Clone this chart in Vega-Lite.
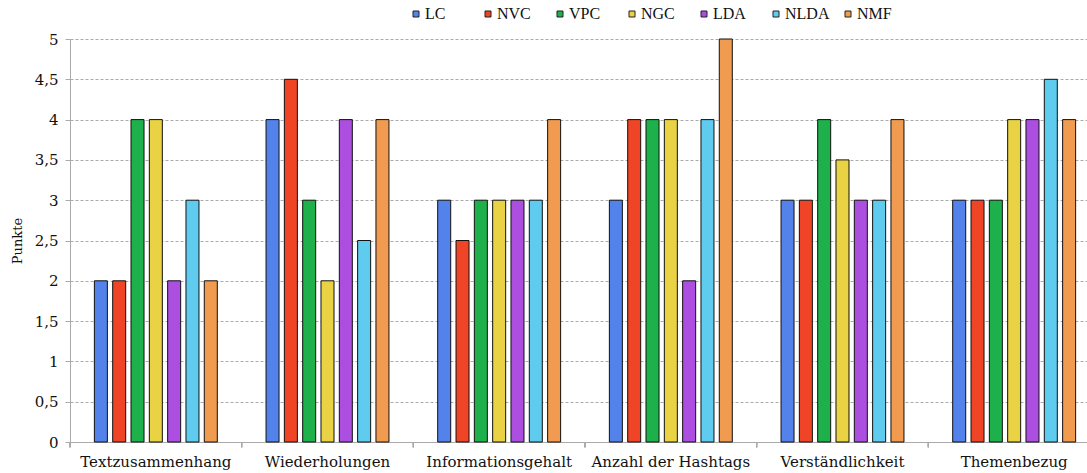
{
  "$schema": "https://vega.github.io/schema/vega-lite/v6.json",
  "autosize": {"type": "none"},
  "width": 1017,
  "height": 403,
  "padding": {"left": 70, "top": 39, "right": 0, "bottom": 31},
  "background": "white",
  "config": {
    "font": "DejaVu Serif",
    "view": {"stroke": null}
  },
  "data": {
    "values": [
      {"kriterium": "Textzusammenhang", "methode": "LC", "punkte": 2},
      {"kriterium": "Textzusammenhang", "methode": "NVC", "punkte": 2},
      {"kriterium": "Textzusammenhang", "methode": "VPC", "punkte": 4},
      {"kriterium": "Textzusammenhang", "methode": "NGC", "punkte": 4},
      {"kriterium": "Textzusammenhang", "methode": "LDA", "punkte": 2},
      {"kriterium": "Textzusammenhang", "methode": "NLDA", "punkte": 3},
      {"kriterium": "Textzusammenhang", "methode": "NMF", "punkte": 2},
      {"kriterium": "Wiederholungen", "methode": "LC", "punkte": 4},
      {"kriterium": "Wiederholungen", "methode": "NVC", "punkte": 4.5},
      {"kriterium": "Wiederholungen", "methode": "VPC", "punkte": 3},
      {"kriterium": "Wiederholungen", "methode": "NGC", "punkte": 2},
      {"kriterium": "Wiederholungen", "methode": "LDA", "punkte": 4},
      {"kriterium": "Wiederholungen", "methode": "NLDA", "punkte": 2.5},
      {"kriterium": "Wiederholungen", "methode": "NMF", "punkte": 4},
      {"kriterium": "Informationsgehalt", "methode": "LC", "punkte": 3},
      {"kriterium": "Informationsgehalt", "methode": "NVC", "punkte": 2.5},
      {"kriterium": "Informationsgehalt", "methode": "VPC", "punkte": 3},
      {"kriterium": "Informationsgehalt", "methode": "NGC", "punkte": 3},
      {"kriterium": "Informationsgehalt", "methode": "LDA", "punkte": 3},
      {"kriterium": "Informationsgehalt", "methode": "NLDA", "punkte": 3},
      {"kriterium": "Informationsgehalt", "methode": "NMF", "punkte": 4},
      {"kriterium": "Anzahl der Hashtags", "methode": "LC", "punkte": 3},
      {"kriterium": "Anzahl der Hashtags", "methode": "NVC", "punkte": 4},
      {"kriterium": "Anzahl der Hashtags", "methode": "VPC", "punkte": 4},
      {"kriterium": "Anzahl der Hashtags", "methode": "NGC", "punkte": 4},
      {"kriterium": "Anzahl der Hashtags", "methode": "LDA", "punkte": 2},
      {"kriterium": "Anzahl der Hashtags", "methode": "NLDA", "punkte": 4},
      {"kriterium": "Anzahl der Hashtags", "methode": "NMF", "punkte": 5},
      {"kriterium": "Verständlichkeit", "methode": "LC", "punkte": 3},
      {"kriterium": "Verständlichkeit", "methode": "NVC", "punkte": 3},
      {"kriterium": "Verständlichkeit", "methode": "VPC", "punkte": 4},
      {"kriterium": "Verständlichkeit", "methode": "NGC", "punkte": 3.5},
      {"kriterium": "Verständlichkeit", "methode": "LDA", "punkte": 3},
      {"kriterium": "Verständlichkeit", "methode": "NLDA", "punkte": 3},
      {"kriterium": "Verständlichkeit", "methode": "NMF", "punkte": 4},
      {"kriterium": "Themenbezug", "methode": "LC", "punkte": 3},
      {"kriterium": "Themenbezug", "methode": "NVC", "punkte": 3},
      {"kriterium": "Themenbezug", "methode": "VPC", "punkte": 3},
      {"kriterium": "Themenbezug", "methode": "NGC", "punkte": 4},
      {"kriterium": "Themenbezug", "methode": "LDA", "punkte": 4},
      {"kriterium": "Themenbezug", "methode": "NLDA", "punkte": 4.5},
      {"kriterium": "Themenbezug", "methode": "NMF", "punkte": 4}
    ]
  },
  "encoding": {
    "x": {
      "field": "kriterium",
      "type": "nominal",
      "sort": null,
      "scale": {"range": [0, 1030], "paddingInner": 0, "paddingOuter": 0},
      "axis": {
        "title": null,
        "labelAngle": 0,
        "labelFont": "DejaVu Serif",
        "labelFontSize": 15,
        "labelColor": "#111",
        "labelPadding": 12,
        "ticks": false,
        "domain": true,
        "domainColor": "#aaa",
        "grid": false
      }
    }
  },
  "layer": [
    {
      "mark": {"type": "bar", "stroke": "#111", "strokeWidth": 1},
      "encoding": {
        "xOffset": {
          "field": "methode",
          "type": "nominal",
          "scale": {
            "domain": ["_a", "LC", "NVC", "VPC", "NGC", "LDA", "NLDA", "NMF", "_b"],
            "paddingInner": 0.29,
            "paddingOuter": 0.33
          }
        },
        "y": {
          "field": "punkte",
          "type": "quantitative",
          "scale": {"domain": [0, 5]},
          "axis": {
            "title": "Punkte",
            "titleFont": "DejaVu Serif",
            "titleFontSize": 13,
            "titleFontWeight": "normal",
            "titleColor": "#111",
            "titlePadding": 10,
            "values": [0, 0.5, 1, 1.5, 2, 2.5, 3, 3.5, 4, 4.5, 5],
            "format": ".1~f",
            "labelExpr": "replace(datum.label, '.', ',')",
            "labelFont": "DejaVu Serif",
            "labelFontSize": 15,
            "labelColor": "#111",
            "labelPadding": 7,
            "tickSize": 5,
            "tickColor": "#aaa",
            "domainColor": "#aaa",
            "grid": true,
            "gridColor": "#aaa",
            "gridDash": [3, 2],
            "gridWidth": 1
          }
        },
        "color": {
          "field": "methode",
          "type": "nominal",
          "scale": {
            "domain": ["LC", "NVC", "VPC", "NGC", "LDA", "NLDA", "NMF"],
            "range": ["#5282ea", "#ef4526", "#1db04b", "#ead245", "#ac4fe0", "#5ecbef", "#f09b4f"]
          },
          "legend": {
            "title": null,
            "orient": "none",
            "legendX": 338,
            "legendY": -33,
            "direction": "horizontal",
            "columns": 7,
            "gridAlign": "all",
            "columnPadding": 10,
            "symbolType": "square",
            "symbolSize": 36,
            "symbolStrokeColor": "#222",
            "symbolStrokeWidth": 1,
            "symbolOpacity": 1,
            "labelFont": "Liberation Serif",
            "labelFontSize": 16,
            "labelColor": "#111",
            "labelOffset": 1
          }
        }
      }
    },
    {
      "mark": {"type": "rule", "color": "#aaa", "strokeWidth": 1},
      "encoding": {
        "x": {"field": "kriterium", "type": "nominal", "sort": null, "bandPosition": 0},
        "y": {"datum": 0},
        "y2": {"datum": -0.065}
      }
    }
  ]
}
